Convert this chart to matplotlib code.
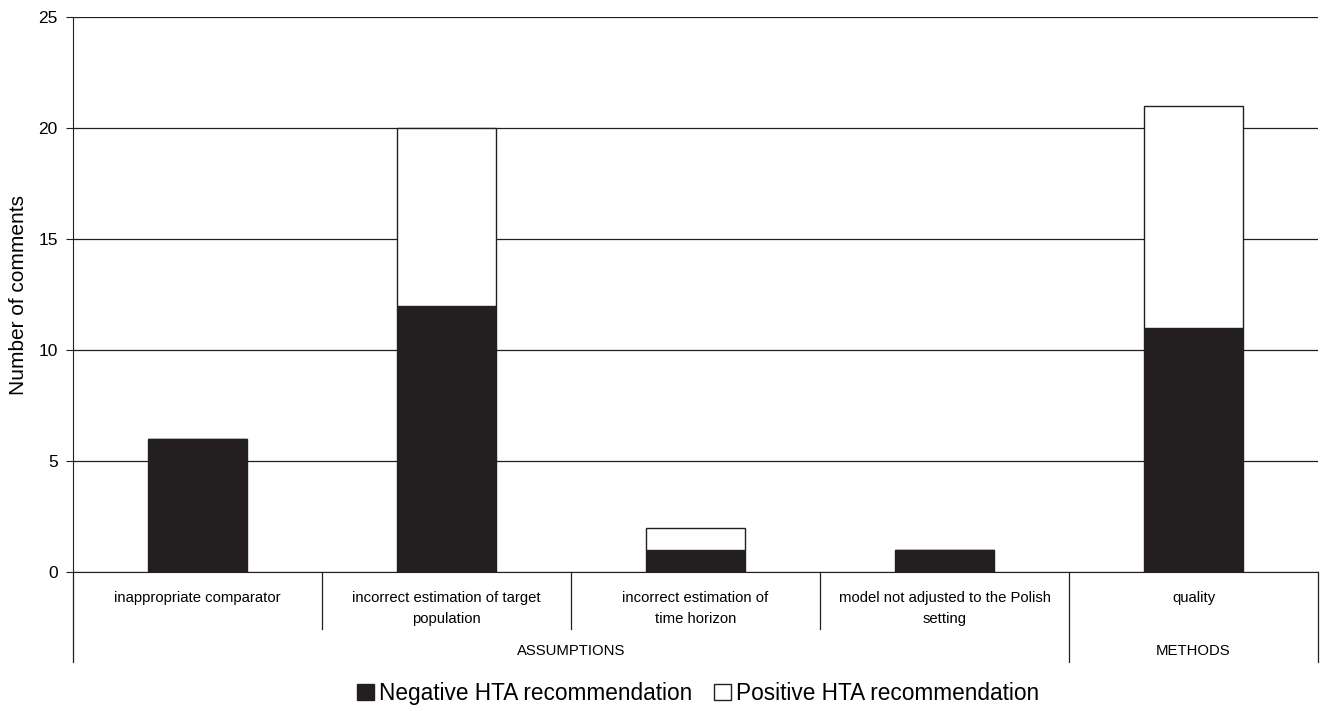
import numpy as np
import matplotlib.pyplot as plt
import matplotlib as mpl

mpl.rcParams['font.family'] = ['Liberation Sans', 'DejaVu Sans']

categories = ['inappropriate comparator',
              'incorrect estimation of target\npopulation',
              'incorrect estimation of\ntime horizon',
              'model not adjusted to the Polish\nsetting',
              'quality']
groups = ['ASSUMPTIONS', 'METHODS']
group_sizes = [4, 1]
negative = [6, 12, 1, 1, 11]
positive = [0, 8, 1, 0, 10]

fig = plt.figure(figsize=(13.22, 7.11), dpi=100)
ax = fig.add_axes([0.0552, 0.1955, 0.9418, 0.7805])

x = np.arange(len(categories))
w = 0.4
ax.bar(x, negative, w, color='#231f20', edgecolor='#231f20', linewidth=1,
       label='Negative HTA recommendation', zorder=3)
ax.bar(x, positive, w, bottom=negative, color='white', edgecolor='#231f20',
       linewidth=1, label='Positive HTA recommendation', zorder=3)

ax.set_xlim(-0.5, len(categories) - 0.5)
ax.set_ylim(0, 25)
ax.set_yticks(np.arange(0, 26, 5))
ax.yaxis.grid(True, color='#231f20', linewidth=0.9)
ax.set_axisbelow(True)
ax.tick_params(axis='y', labelsize=12.5, length=5, color='#231f20', pad=6)
ax.set_ylabel('Number of comments', fontsize=15, labelpad=7)

for s in ['top', 'right']:
    ax.spines[s].set_visible(False)
ax.spines['left'].set_color('#231f20')
ax.spines['bottom'].set_color('#231f20')
ax.spines['left'].set_bounds(0, 25)

# two-level category axis drawn by hand
ax.set_xticks([])
trans = ax.get_xaxis_transform()
for i, lab in enumerate(categories):
    ax.text(i, -0.035, lab, transform=trans, ha='center', va='top',
            fontsize=10.7, linespacing=1.6)

edges = [-0.5]
for n in group_sizes:
    edges.append(edges[-1] + n)
group_bounds = set(edges)
for b in np.arange(-0.5, len(categories), 1.0):
    depth = -0.162 if b in group_bounds else -0.103
    ax.plot([b, b], [0, depth], transform=trans, color='#231f20',
            linewidth=0.9, clip_on=False)

for g, lo, hi in zip(groups, edges[:-1], edges[1:]):
    ax.text((lo + hi) / 2, -0.142, g, transform=trans, ha='center',
            va='center', fontsize=10.7)

leg = fig.legend(loc='lower center', bbox_to_anchor=(0.528, -0.02), ncol=2,
                 frameon=False, fontsize=16.3, handlelength=0.75,
                 handleheight=0.75, handletextpad=0.2, columnspacing=1.0)

fig.savefig('out.png', dpi=100)
